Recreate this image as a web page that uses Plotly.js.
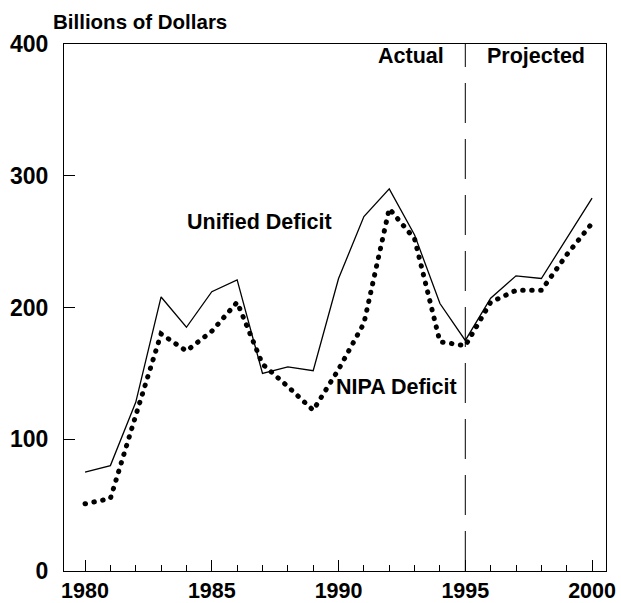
<!DOCTYPE html>
<html>
<head>
<meta charset="utf-8">
<script src="https://cdn.plot.ly/plotly-3.0.1.min.js"></script>
<style>
  html, body { margin: 0; padding: 0; background: #fff; }
  #chart { width: 621px; height: 603px; }
  .scatterlayer .trace:nth-child(2) .js-line { stroke-linecap: round; }
</style>
</head>
<body>
<div id="chart"></div>
<script>
const years = [1980, 1981, 1982, 1983, 1984, 1985, 1986, 1987, 1988, 1989, 1990,
               1991, 1992, 1993, 1994, 1995, 1996, 1997, 1998, 1999, 2000];
const unifiedDeficit = [75, 80, 128, 208, 185, 212, 221, 150, 155, 152, 222,
                        269, 290, 255, 203, 175, 207, 224, 222, 253, 283];
const nipaDeficit = [51, 55, 118, 180, 167, 182, 204, 157, 140, 122, 153,
                     188, 275, 252, 174, 171, 204, 213, 213, 240, 264];
const xTickVals = [1980, 1985, 1990, 1995, 2000];
const yTickVals = [0, 100, 200, 300, 400];
const projectionStart = 1995;
const seriesLabels = ["Unified Deficit", "NIPA Deficit"];
const periodLabels = ["Actual", "Projected"];
const unitLabel = "Billions of Dollars";

const FONT = "Arial, 'Liberation Sans', Helvetica, sans-serif";

const traces = [
  {
    x: years, y: unifiedDeficit, type: "scatter", mode: "lines",
    name: seriesLabels[0],
    line: { color: "#000", width: 1.3 },
    hoverinfo: "skip"
  },
  {
    x: years, y: nipaDeficit, type: "scatter", mode: "lines",
    name: seriesLabels[1],
    line: { color: "#000", width: 5, dash: "0.5px,8.5px" },
    hoverinfo: "skip"
  }
];

const layout = {
  width: 621, height: 603,
  margin: { l: 64, r: 15, t: 44, b: 32, pad: 0 },
  paper_bgcolor: "#fff", plot_bgcolor: "#fff",
  showlegend: false,
  font: { family: FONT, color: "#000" },
  xaxis: {
    range: [1979.17, 2000.55],
    tickmode: "array", tickvals: xTickVals, ticktext: xTickVals.map(String),
    ticks: "inside", ticklen: 11, tickwidth: 1, tickcolor: "#000",
    minor: { ticks: "inside", ticklen: 6, tickwidth: 1, tickcolor: "#000", dtick: 1, tick0: 1980, showgrid: false },
    showline: true, linecolor: "#000", linewidth: 1, mirror: true,
    showgrid: false, zeroline: false,
    tickfont: { family: FONT, size: 21.5, weight: 700, color: "#000" },
    ticklabelstandoff: 0
  },
  yaxis: {
    range: [0, 400],
    tickmode: "array", tickvals: yTickVals, ticktext: yTickVals.map(String),
    ticks: "inside", ticklen: 11, tickwidth: 1, tickcolor: "#000",
    showline: true, linecolor: "#000", linewidth: 1, mirror: true,
    showgrid: false, zeroline: false,
    tickfont: { family: FONT, size: 23, weight: 700, color: "#000" },
    ticklabelstandoff: 10
  },
  shapes: [
    {
      type: "line", xref: "x", yref: "paper",
      x0: projectionStart, x1: projectionStart, y0: 0, y1: 1,
      line: { color: "#000", width: 1, dash: "40px,16px" }
    }
  ],
  annotations: [
    {
      text: unitLabel, xref: "paper", yref: "paper",
      x: -0.024, y: 1.042, xanchor: "left", yanchor: "middle",
      showarrow: false, font: { family: FONT, size: 20.5, weight: 700, color: "#000" }
    },
    {
      text: periodLabels[0], xref: "x", yref: "y",
      x: 1992.84, y: 391, xanchor: "center", yanchor: "middle",
      showarrow: false, font: { family: FONT, size: 21.5, weight: 700, color: "#000" }
    },
    {
      text: periodLabels[1], xref: "x", yref: "y",
      x: 1997.77, y: 391, xanchor: "center", yanchor: "middle",
      showarrow: false, font: { family: FONT, size: 21.5, weight: 700, color: "#000" }
    },
    {
      text: seriesLabels[0], xref: "x", yref: "y",
      x: 1986.9, y: 265, xanchor: "center", yanchor: "middle",
      showarrow: false, font: { family: FONT, size: 21.5, weight: 700, color: "#000" }
    },
    {
      text: seriesLabels[1], xref: "x", yref: "y",
      x: 1992.27, y: 140, xanchor: "center", yanchor: "middle",
      showarrow: false, font: { family: FONT, size: 21.5, weight: 700, color: "#000" }
    }
  ]
};

Plotly.newPlot("chart", traces, layout, { staticPlot: true, displayModeBar: false });
</script>
</body>
</html>
